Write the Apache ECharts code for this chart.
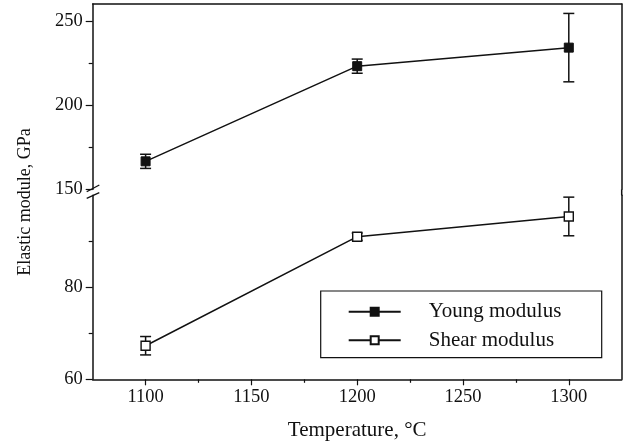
<!DOCTYPE html>
<html>
<head>
<meta charset="utf-8">
<script src="https://cdn.jsdelivr.net/npm/echarts@6/dist/echarts.min.js"></script>
<style>
html,body{margin:0;padding:0;background:#fff;}
#chart{width:628px;height:448px;}
</style>
</head>
<body>
<div id="chart"></div>
<script>
// 数据
var temps = [1100, 1200, 1300];
var youngVals = [166.6, 223.1, 234.1];
var youngErr = [4.2, 4.2, 20.3];
var shearVals = [67.3, 91.0, 95.4];
var shearErr = [2.0, 0.8, 4.2];
var xTicks = [1100, 1150, 1200, 1250, 1300];
var xMinor = [1125, 1175, 1225, 1275];
var upperTicks = [150, 200, 250];
var upperMinor = [175, 225];
var lowerTicks = [60, 80];
var lowerMinor = [70, 90];

var font = 'Liberation Serif';
var ink = '#111';

function pairs(vals) {
    return temps.map(function (t, i) { return [t, vals[i]]; });
}
function errData(vals, errs) {
    return temps.map(function (t, i) { return [t, vals[i] - errs[i], vals[i] + errs[i]]; });
}
//误差棒
function errRender(params, api) {
    var lo = api.coord([api.value(0), api.value(1)]);
    var hi = api.coord([api.value(0), api.value(2)]);
    var w = 5.5;
    var st = { stroke: ink, lineWidth: 1.5 };
    return {
        type: 'group',
        children: [
            { type: 'line', shape: { x1: lo[0], y1: lo[1], x2: hi[0], y2: hi[1] }, style: st },
            { type: 'line', shape: { x1: lo[0] - w, y1: lo[1], x2: lo[0] + w, y2: lo[1] }, style: st },
            { type: 'line', shape: { x1: hi[0] - w, y1: hi[1], x2: hi[0] + w, y2: hi[1] }, style: st }
        ]
    };
}

var L = 92.7, R = 6.3;
var line = { lineStyle: { color: ink, width: 1.5 } };
var lbl = { fontFamily: font, fontSize: 18.5, color: ink, formatter: function (v) { return String(v); } };

var myChart = echarts.init(document.getElementById('chart'));
var option = {
    animation: false,
    backgroundColor: '#fff',
    grid: [
        { left: L, right: R, top: 4, height: 185.3 },
        { left: L, right: R, top: 195.3, height: 184 }
    ],
    xAxis: [
        { gridIndex: 0, type: 'value', min: 1075, max: 1325, position: 'top',
          axisLine: line, axisTick: { show: false }, axisLabel: { show: false }, splitLine: { show: false } },
        { gridIndex: 1, type: 'value', min: 1075, max: 1325, position: 'bottom',
          axisLine: line,
          axisTick: { show: true, length: 6, lineStyle: { color: ink, width: 1.2 }, customValues: xTicks },
          axisLabel: Object.assign({ margin: 8, customValues: xTicks }, lbl),
          splitLine: { show: false },
          name: 'Temperature, °C', nameLocation: 'middle', nameGap: 41,
          nameTextStyle: { fontFamily: font, fontSize: 21, color: ink } },
        { gridIndex: 1, type: 'value', min: 1075, max: 1325, position: 'bottom',
          axisLine: { show: false },
          axisTick: { show: true, length: 3.5, lineStyle: { color: ink, width: 1.2 }, customValues: xMinor },
          axisLabel: { show: false }, splitLine: { show: false } }
    ],
    yAxis: [
        { gridIndex: 0, type: 'value', min: 150, max: 260, position: 'left',
          axisLine: line,
          axisTick: { show: true, length: 7, lineStyle: { color: ink, width: 1.2 }, customValues: upperTicks },
          axisLabel: Object.assign({ margin: 10, customValues: upperTicks }, lbl),
          splitLine: { show: false } },
        { gridIndex: 0, type: 'value', min: 150, max: 260, position: 'left',
          axisLine: { show: false },
          axisTick: { show: true, length: 4, lineStyle: { color: ink, width: 1.2 }, customValues: upperMinor },
          axisLabel: { show: false }, splitLine: { show: false } },
        { gridIndex: 0, type: 'value', min: 150, max: 260, position: 'right',
          axisLine: line, axisTick: { show: false }, axisLabel: { show: false }, splitLine: { show: false } },
        { gridIndex: 1, type: 'value', min: 60, max: 100, position: 'left',
          axisLine: line,
          axisTick: { show: true, length: 7, lineStyle: { color: ink, width: 1.2 }, customValues: lowerTicks },
          axisLabel: Object.assign({ margin: 10, customValues: lowerTicks }, lbl),
          splitLine: { show: false } },
        { gridIndex: 1, type: 'value', min: 60, max: 100, position: 'left',
          axisLine: { show: false },
          axisTick: { show: true, length: 4, lineStyle: { color: ink, width: 1.2 }, customValues: lowerMinor },
          axisLabel: { show: false }, splitLine: { show: false } },
        { gridIndex: 1, type: 'value', min: 60, max: 100, position: 'right',
          axisLine: line, axisTick: { show: false }, axisLabel: { show: false }, splitLine: { show: false } }
    ],
    legend: {
        orient: 'vertical',
        left: 320.7,
        top: 291,
        data: ['Young modulus', 'Shear modulus'],
        itemWidth: 52,
        itemHeight: 10,
        itemGap: 6.6,
        padding: [9.7, 23, 6.4, 27],
        borderColor: ink,
        borderWidth: 1.2,
        backgroundColor: '#fff',
        textStyle: { fontFamily: font, fontSize: 21, color: ink, width: 150, lineHeight: 22, padding: [0, 0, 0, 23] }
    },
    series: [
        { type: 'custom', name: 'youngErr', xAxisIndex: 0, yAxisIndex: 0,
          data: errData(youngVals, youngErr), renderItem: errRender, z: 1, silent: true },
        { type: 'custom', name: 'shearErr', xAxisIndex: 1, yAxisIndex: 3,
          data: errData(shearVals, shearErr), renderItem: errRender, z: 1, silent: true },
        { type: 'line', name: 'Young modulus', xAxisIndex: 0, yAxisIndex: 0,
          data: pairs(youngVals), symbol: 'rect', symbolSize: 9, z: 3,
          lineStyle: { color: ink, width: 1.5 },
          itemStyle: { color: ink, borderColor: ink, borderWidth: 1 } },
        { type: 'line', name: 'Shear modulus', xAxisIndex: 1, yAxisIndex: 3,
          data: pairs(shearVals), symbol: 'rect', symbolSize: 9, z: 3,
          lineStyle: { color: ink, width: 1.5 },
          itemStyle: { color: '#fff', borderColor: ink, borderWidth: 1.4 } }
    ],
    graphic: [
        { type: 'text', x: 25, y: 202, rotation: Math.PI / 2,
          style: { text: 'Elastic module, GPa', fontFamily: font, fontSize: 18, fill: ink,
                   textAlign: 'center', textVerticalAlign: 'middle' } },
        // 断轴标记
        { type: 'line', shape: { x1: 621.7, y1: 189.3, x2: 621.7, y2: 195.3 }, style: { stroke: ink, lineWidth: 1.5 } },
        { type: 'line', shape: { x1: 86.7, y1: 191.7, x2: 99.3, y2: 185 }, style: { stroke: ink, lineWidth: 1.3 } },
        { type: 'line', shape: { x1: 86.7, y1: 198.3, x2: 99.3, y2: 192.7 }, style: { stroke: ink, lineWidth: 1.3 } }
    ]
};
myChart.setOption(option);
</script>
</body>
</html>
